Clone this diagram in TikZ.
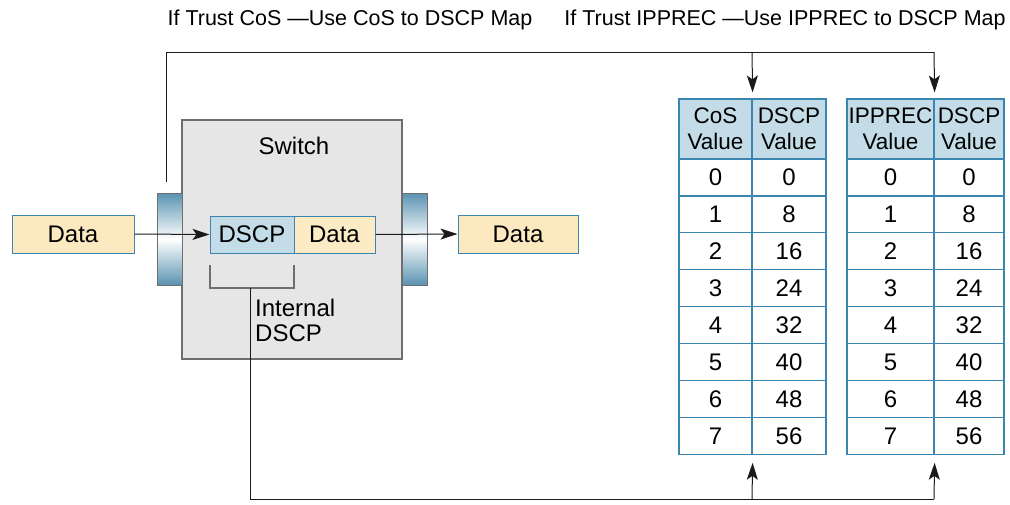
\documentclass[tikz,border=0pt]{standalone}
\usepackage{fontspec}
\setmainfont{Liberation Sans}
\usetikzlibrary{arrows.meta}
\definecolor{tblue}{HTML}{3A86B0}
\definecolor{hblue}{HTML}{C3DCE8}
\definecolor{dyel}{HTML}{FCE9C0}
\definecolor{iyel}{HTML}{FCEBC4}
\definecolor{sgray}{HTML}{E6E6E6}
\definecolor{bgray}{HTML}{6E6E6E}
\definecolor{lgray}{HTML}{1A1A1A}
\definecolor{pblue}{HTML}{5A93B2}
\tikzset{mytip/.tip={Stealth[length=17pt,width=11pt,inset=4pt]}}
\begin{document}
\begin{tikzpicture}[x=1pt,y=-1pt,
  conn/.style={draw=lgray,line width=1pt},
  arr/.style={conn,-mytip},
  cell/.style={draw=tblue,line width=1.2pt,fill=white,inner sep=0pt,font=\fontsize{24}{26}\selectfont},
  hcell/.style={cell,fill=hblue,align=center,font=\fontsize{22.5}{26}\selectfont},
  databox/.style={draw=tblue,line width=1pt,fill=dyel,inner sep=0pt,minimum height=38pt,font=\fontsize{24}{26}\selectfont},
  lbl/.style={font=\fontsize{21.5}{24}\selectfont,inner sep=0pt},
  port/.style={top color=pblue,bottom color=pblue,middle color=white,draw=bgray,line width=0.8pt}
]
\useasboundingbox (0,0) rectangle (1010,504);

% top labels
\node[lbl] (lab1) at (350,20) {If Trust CoS —Use CoS to DSCP Map};
\node[lbl] (lab2) at (785,20) {If Trust IPPREC —Use IPPREC to DSCP Map};

% switch
\node[draw=bgray,line width=1.1pt,fill=sgray,minimum width=220pt,minimum height=239pt,inner sep=0pt] (sw) at (292,239.5) {};
\node[font=\fontsize{24}{26}\selectfont] (swl) at (294,146) {Switch};

% ports
\shade[port] (157,193) rectangle (182,285);
\shade[port] (402,193) rectangle (427,285);

% packets
\node[databox,minimum width=122pt] (din) at (73,234) {Data};
\node[databox,minimum width=120pt] (dout) at (518,234) {Data};
\node[databox,fill=hblue,minimum width=84pt,minimum height=37pt] (dscp) at (252,234.5) {DSCP};
\node[databox,fill=iyel,minimum width=81pt,minimum height=37pt] (idata) at (334.5,234.5) {Data};

\draw[arr] (din.east) -- (dscp.west);
\draw[arr] (idata.east) -- (dout.west);

% bracket
\coordinate (b1) at (210,265);
\coordinate (b2) at (294,265);
\coordinate (bm) at (250,288);
\draw[draw=bgray,line width=1.4pt] (b1) |- (b2 |- bm) -- (b2);
\node[font=\fontsize{24}{25}\selectfont,align=left,anchor=west,inner sep=0pt] (intl) at (255,320) {Internal\\DSCP};

% tables
\def\rh{36.9}
\node[hcell,minimum width=73pt,minimum height=60pt] (a0) at (715.5,129) {CoS\\Value};
\node[hcell,minimum width=74pt,minimum height=60pt] (b0) at (789,129) {DSCP\\Value};
\node[hcell,minimum width=87pt,minimum height=60pt] (c0) at (890.5,129) {IPPREC\\Value};
\node[hcell,minimum width=70pt,minimum height=60pt] (d0) at (969,129) {DSCP\\Value};
\foreach \i/\v in {0/0,1/8,2/16,3/24,4/32,5/40,6/48,7/56}{
  \pgfmathsetmacro{\yy}{159+\rh*(\i+0.5)}
  \node[cell,minimum width=73pt,minimum height=\rh pt] (a\i r) at (715.5,\yy) {\i};
  \node[cell,minimum width=74pt,minimum height=\rh pt] (b\i r) at (789,\yy) {\v};
  \node[cell,minimum width=87pt,minimum height=\rh pt] (c\i r) at (890.5,\yy) {\i};
  \node[cell,minimum width=70pt,minimum height=\rh pt] (d\i r) at (969,\yy) {\v};
}

% connectors top
\coordinate (lt) at (166,182);
\coordinate (j1) at (752,52);
\coordinate (j2) at (934,52);
\draw[conn] (lt) |- (j2);
\draw[arr] (j1) -- ([yshift=6pt]a0.north east);
\draw[arr] (j2) -- ([yshift=6pt]c0.north east);

% connectors bottom
\coordinate (k1) at (752,499);
\coordinate (k2) at (934,499);
\draw[conn] (bm) |- (k2);
\draw[arr] (k1) -- ([yshift=-8pt]a7r.south east);
\draw[arr] (k2) -- ([yshift=-8pt]c7r.south east);
\end{tikzpicture}
\end{document}
